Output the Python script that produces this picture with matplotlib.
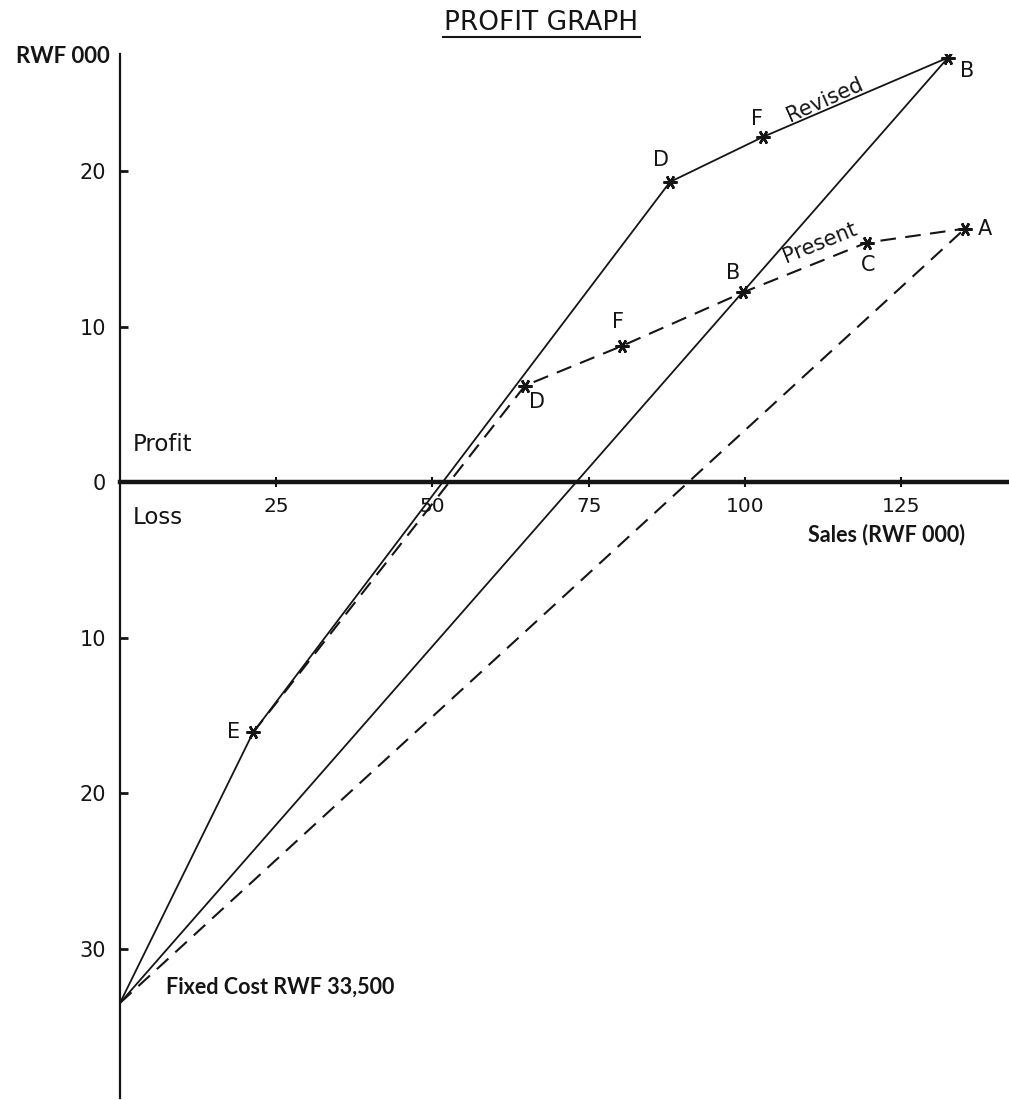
import matplotlib
matplotlib.use("Agg")
import matplotlib.pyplot as plt
from matplotlib.lines import Line2D

# ---- data (sales RWF 000, profit RWF 000) ----
fixed_cost = -33.5

revised_x = [0, 21.3, 88.0, 102.9, 132.5]
revised_y = [fixed_cost, -16.1, 19.3, 22.2, 27.3]
revised_labels = ["", "E", "D", "F", "B"]

present_x = [0, 21.3, 64.8, 80.3, 99.7, 119.5, 135.2]
present_y = [fixed_cost, -16.1, 6.2, 8.75, 12.2, 15.4, 16.3]
present_labels = ["", "E", "D", "F", "B", "C", "A"]

# straight totals lines: fixed cost -> end point
revised_total_x = [0, 132.5]
revised_total_y = [fixed_cost, 27.3]
present_total_x = [0, 135.2]
present_total_y = [fixed_cost, 16.3]

x_ticks = [25, 50, 75, 100, 125]
x_ticklabels = ["25", "50", "75", "100", "125"]
y_ticks = [20, 10, 0, -10, -20, -30]
y_ticklabels = ["20", "10", "0", "10", "20", "30"]

INK = "#151515"
HAND = "DejaVu Sans"
TYPE = "Lato"

fig = plt.figure(figsize=(10.09, 11.0), dpi=100)
ax = fig.add_axes([120 / 1009, 0.002, 887.5 / 1009, 0.9485])
ax.set_xlim(0, 142)
ax.set_ylim(-39.6, 27.5)

# spines
for s in ["top", "right"]:
    ax.spines[s].set_visible(False)
ax.spines["bottom"].set_position(("data", 0))
ax.spines["bottom"].set_linewidth(3.2)
ax.spines["bottom"].set_color(INK)
ax.spines["left"].set_linewidth(1.6)
ax.spines["left"].set_color(INK)
ax.spines["bottom"].set_zorder(1)

ax.set_xticks(x_ticks)
ax.set_xticklabels(x_ticklabels, fontsize=14.5, family=HAND, color=INK)
ax.set_yticks(y_ticks)
ax.set_yticklabels(y_ticklabels, fontsize=15, family=HAND, color=INK)
ax.tick_params(axis="x", direction="inout", length=7, width=1.5, pad=7, colors=INK)
ax.tick_params(axis="y", direction="in", length=6, width=2, pad=10, colors=INK)

mk = dict(marker=(6, 2, 90), markersize=10, markeredgewidth=1.8,
          markeredgecolor=INK, markerfacecolor=INK)
DASH = (7.5, 4.5)

# total lines
ax.plot(revised_total_x, revised_total_y, color=INK, lw=1.3, zorder=2)
ax.plot(present_total_x, present_total_y, color=INK, lw=1.5,
        dashes=DASH, zorder=2)

# origin to E (shared, solid)
ax.plot(revised_x[:2], revised_y[:2], color=INK, lw=1.3, zorder=3)
# revised polyline
ax.plot(revised_x[1:], revised_y[1:], color=INK, lw=1.3, zorder=3)
ax.plot(revised_x[1:], revised_y[1:], linestyle="none", zorder=4, **mk)
# present polyline (dashed)
ax.plot(present_x[1:], present_y[1:], color=INK, lw=1.5, dashes=DASH, zorder=3)
ax.plot(present_x[2:], present_y[2:], linestyle="none", zorder=4, **mk)

# point labels (offsets in pixels)
rev_off = {"D": (-9, 22), "F": (-6, 18), "B": (19, -13)}
pre_off = {"E": (-20, 0), "D": (12, -16), "F": (-4, 24), "B": (-10, 19),
           "C": (1, -22), "A": (20, 0)}
for x, y, lab in zip(revised_x, revised_y, revised_labels):
    if lab in rev_off:
        ax.annotate(lab, (x, y), xytext=rev_off[lab], textcoords="offset pixels",
                    ha="center", va="center", fontsize=15, family=HAND, color=INK)
for x, y, lab in zip(present_x, present_y, present_labels):
    if lab in pre_off:
        ax.annotate(lab, (x, y), xytext=pre_off[lab], textcoords="offset pixels",
                    ha="center", va="center", fontsize=15, family=HAND, color=INK)

ax.text(112.8, 24.6, "Revised", rotation=24, ha="center", va="center",
        fontsize=15, family=HAND, color=INK)
ax.text(112.0, 15.4, "Present", rotation=22, ha="center", va="center",
        fontsize=15, family=HAND, color=INK)

ax.text(2.1, 2.4, "Profit", ha="left", va="center", fontsize=16.5, family=HAND, color=INK)
ax.text(2.1, -2.3, "Loss", ha="left", va="center", fontsize=16.5, family=HAND, color=INK)

ax.text(122.6, -3.35, "Sales (RWF 000)", ha="center", va="center",
        fontsize=15.5, family=TYPE, fontweight="bold", color=INK)
ax.text(7.4, -32.5, "Fixed Cost RWF 33,500", ha="left", va="center",
        fontsize=15.5, family=TYPE, fontweight="bold", color=INK)

ax.annotate("RWF 000", (0, 1), xycoords="axes fraction", xytext=(-10, -2),
            textcoords="offset pixels", ha="right", va="center",
            fontsize=16, family=TYPE, fontweight="bold", color=INK)

fig.text(541 / 1009, 1 - 23 / 1100, "PROFIT GRAPH", ha="center", va="center",
         fontsize=19, family=HAND, color=INK)
fig.add_artist(Line2D([443 / 1009, 640 / 1009], [1 - 37 / 1100, 1 - 37 / 1100],
                      transform=fig.transFigure, color=INK, lw=1.5))

fig.savefig("out.png", dpi=100)
